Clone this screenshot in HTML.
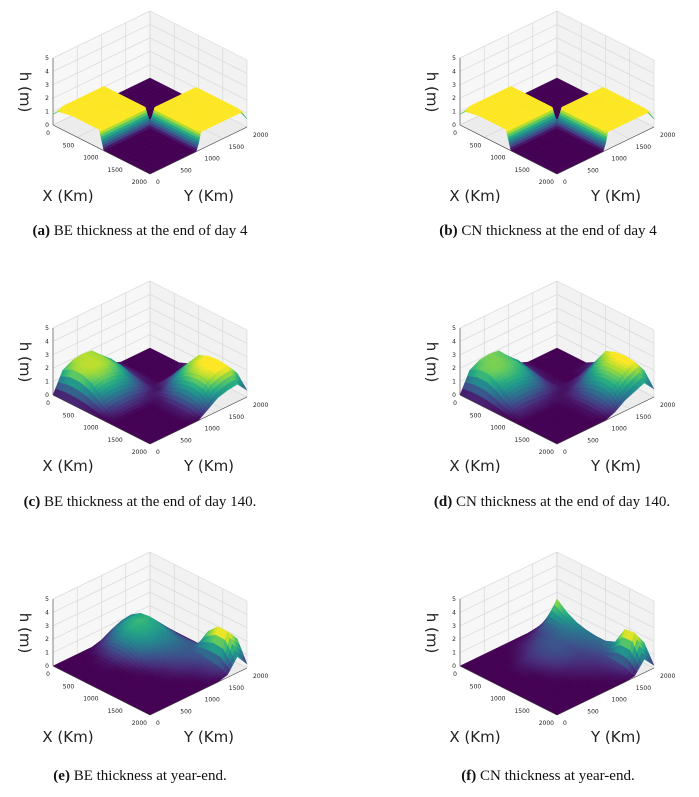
<!DOCTYPE html>
<html><head><meta charset="utf-8">
<style>
body{margin:0;background:#fff;}
#wrap{position:relative;width:699px;height:797px;overflow:hidden;font-family:"DejaVu Sans","Liberation Sans",sans-serif;}
svg{position:absolute;left:0;top:0;}
.cap{position:absolute;font-family:"Liberation Serif",serif;font-size:15px;color:#111;white-space:nowrap;transform:translateX(-50%);}
</style></head>
<body>
<div id="wrap">
<svg id="svg" width="699" height="797"></svg>
<div class="cap" style="left:140px;top:223px"><b>(a)</b> BE thickness at the end of day 4</div>
<div class="cap" style="left:548px;top:223px"><b>(b)</b> CN thickness at the end of day 4</div>
<div class="cap" style="left:140px;top:494px"><b>(c)</b> BE thickness at the end of day 140.</div>
<div class="cap" style="left:552px;top:494px"><b>(d)</b> CN thickness at the end of day 140.</div>
<div class="cap" style="left:140px;top:768px"><b>(e)</b> BE thickness at year-end.</div>
<div class="cap" style="left:548px;top:768px"><b>(f)</b> CN thickness at year-end.</div>
</div>
<script>
// grid coordinates (km)
const kmFine = [0,100,400,800,950,1000,1050,1200,1600,1900,2000];
const kmUniform = [0,200,400,600,800,1000,1200,1400,1600,1800,2000];
const xTicks = [0,500,1000,1500,2000];
const zTicks = [0,1,2,3,4,5];
// heights h[i][j], i along X, j along Y
const hDay4 = [
[0.8,0.8,0.8,0.8,0.8,0.4,0,0,0,0,0],
[1.2,1.4,1.4,1.4,1.4,0.7,0,0,0,0,0],
[1.4,1.4,1.4,1.4,1.4,0.7,0,0,0,0,0],
[1.4,1.4,1.4,1.4,1.4,0.7,0,0,0,0,0],
[1.4,1.4,1.4,1.4,1.4,0.7,0,0,0,0,0],
[0.7,0.7,0.7,0.7,0.7,0.2,0.7,0.7,0.7,0.7,0.5],
[0,0,0,0,0,0.7,1.4,1.4,1.4,1.4,0.8],
[0,0,0,0,0,0.7,1.4,1.4,1.4,1.4,0.8],
[0,0,0,0,0,0.7,1.4,1.4,1.4,1.4,0.8],
[0,0,0,0,0,0.7,1.4,1.4,1.4,1.4,0.8],
[0,0,0,0,0,0.5,1.3,1.3,1.3,1.3,0.6]];
const hBE140 = [
[0,1.5,1.9,2.0,1.9,1.2,0.3,0,0,0,0],
[0,1.9,2.0,2.0,1.9,1.3,0.4,0,0,0,0],
[0,1.9,2.0,2.0,1.8,1.2,0.3,0,0,0,0],
[0,1.6,1.8,1.7,1.4,0.8,0.2,0,0,0,0],
[0,1.0,1.2,1.1,0.9,0.5,0.1,0,0,0,0.3],
[0,0.3,0.4,0.4,0.3,0.15,0.1,0.5,0.9,1.0,0.6],
[0,0,0,0,0,0.1,0.6,1.3,1.8,2.0,1.2],
[0,0,0,0,0,0.2,1.0,1.8,2.2,2.3,1.4],
[0,0,0,0,0,0.2,1.1,2.0,2.3,2.4,1.5],
[0,0,0,0,0,0.2,1.0,1.9,2.2,2.3,1.4],
[0,0,0,0,0,0,0.5,1.0,1.2,1.3,0.5]];
const hCN140 = [
[0,1.5,1.9,2.0,1.9,1.1,0.3,0,0,0,0],
[0,1.9,2.0,2.0,1.8,1.2,0.3,0,0,0,0],
[0,1.9,2.0,1.9,1.7,1.0,0.2,0,0,0,0],
[0,1.5,1.7,1.6,1.3,0.7,0.1,0,0,0,0],
[0,0.9,1.1,1.0,0.8,0.4,0.1,0,0,0.2,0.4],
[0,0.3,0.3,0.3,0.2,0.1,0.1,0.3,0.7,1.2,0.8],
[0,0,0,0,0,0.1,0.4,1.0,1.7,2.3,1.5],
[0,0,0,0,0,0.1,0.7,1.5,2.2,2.6,1.7],
[0,0,0,0,0,0.1,0.8,1.7,2.3,2.7,1.8],
[0,0,0,0,0,0.1,0.7,1.6,2.2,2.6,1.6],
[0,0,0,0,0,0,0.3,0.8,1.1,1.4,0.6]];
const hBEyear = [
[0,0,0,0,0,0.2,0.6,0.9,1.0,0.5,0],
[0,0,0,0,0.3,0.8,1.3,1.5,1.5,0.7,0],
[0,0,0,0.1,0.5,1.2,1.6,1.7,1.6,0.8,0],
[0,0,0,0.1,0.5,1.2,1.5,1.5,1.4,0.7,0],
[0,0,0,0,0.3,0.9,1.2,1.2,1.1,0.6,0],
[0,0,0,0,0.1,0.5,0.8,0.9,0.9,0.6,0],
[0,0,0,0,0,0.2,0.5,0.7,0.7,0.7,0],
[0,0,0,0,0,0.1,0.3,0.5,0.7,2.0,0.3],
[0,0,0,0,0,0,0.1,0.3,0.6,2.7,1.5],
[0,0,0,0,0,0,0,0.2,0.5,2.7,1.8],
[0,0,0,0,0,0,0,0,0.2,1.2,0.3]];
const hCNyear = [
[0,0,0,0,0,0,0,0,0.1,0.3,0],
[0,0,0,0,0,0.1,0.2,0.4,0.8,2.2,0.3],
[0,0,0,0,0.1,0.3,0.5,0.6,0.9,1.6,0.2],
[0,0,0,0.1,0.3,0.5,0.6,0.7,0.9,1.2,0.1],
[0,0,0,0.1,0.3,0.5,0.6,0.6,0.8,1.0,0.1],
[0,0,0,0,0.2,0.4,0.5,0.5,0.7,0.9,0.1],
[0,0,0,0,0.1,0.2,0.3,0.4,0.6,0.9,0.1],
[0,0,0,0,0,0.1,0.2,0.3,0.5,1.2,0.2],
[0,0,0,0,0,0,0.1,0.2,0.5,2.5,1.2],
[0,0,0,0,0,0,0,0.1,0.4,2.6,1.5],
[0,0,0,0,0,0,0,0,0.1,1.0,0.2]];

const NS='http://www.w3.org/2000/svg';
const svg=document.getElementById('svg');
const VIR=['#440154','#472c7a','#3b518b','#2c718e','#21908d','#27ad81','#5cc863','#aadc32','#fde725'];
function hex(c){return [parseInt(c.slice(1,3),16),parseInt(c.slice(3,5),16),parseInt(c.slice(5,7),16)];}
function viridis(t){t=Math.max(0,Math.min(1,t));const p=t*(VIR.length-1);const k=Math.min(VIR.length-2,Math.floor(p));const f=p-k;const a=hex(VIR[k]),b=hex(VIR[k+1]);return 'rgb('+a.map((v,i)=>Math.round(v+(b[i]-v)*f)).join(',')+')';}
function mk(tag,attrs,parent){const e=document.createElementNS(NS,tag);for(const k in attrs)e.setAttribute(k,attrs[k]);(parent||svg).appendChild(e);return e;}

function panel(id,ox,oy,km,H){
  const g=mk('g',{});
  
  
  const P=(u,v,z)=>[ox+53+97*u+97*v, oy+125+49*u-47*v-13.4*z];
  const pts=a=>a.map(p=>p.join(',')).join(' ');
  const w1=mk('polygon',{points:pts([P(0,0,0),P(0,1,0),P(0,1,5),P(0,0,5)]),fill:'#f7f7f7',stroke:'none'},g);
  
  const w2=mk('polygon',{points:pts([P(0,1,0),P(1,1,0),P(1,1,5),P(0,1,5)]),fill:'#f2f2f2',stroke:'none'},g);
  
  const fl=mk('polygon',{points:pts([P(0,0,0),P(1,0,0),P(1,1,0),P(0,1,0)]),fill:'#ececec',stroke:'none'},g);
  
  const gl=(a,b)=>mk('line',{x1:a[0],y1:a[1],x2:b[0],y2:b[1],stroke:'#d8d8d8','stroke-width':0.7},g);
  xTicks.forEach(t=>{const s=t/2000;
    gl(P(0,s,0),P(0,s,5));gl(P(s,1,0),P(s,1,5));gl(P(s,0,0),P(s,1,0));gl(P(0,s,0),P(1,s,0));});
  zTicks.forEach(z=>{gl(P(0,0,z),P(0,1,z));gl(P(0,1,z),P(1,1,z));});
  const n=km.length, S=4, zmax=Math.max(...H.flat()), zmin=Math.min(...H.flat());
  const U=[];
  for(let i=0;i<n-1;i++)for(let a=0;a<S;a++)U.push([i,a/S]);U.push([n-2,1]);
  const coord=q=>(km[q[0]]+(km[q[0]+1]-km[q[0]])*q[1])/2000;
  const hv=(qi,qj)=>{const i=qi[0],fi=qi[1],j=qj[0],fj=qj[1];
    return H[i][j]*(1-fi)*(1-fj)+H[i+1][j]*fi*(1-fj)+H[i][j+1]*(1-fi)*fj+H[i+1][j+1]*fi*fj;};
  const m=U.length; const grid=[];
  for(let a=0;a<m;a++){grid.push([]);for(let b=0;b<m;b++)grid[a].push([coord(U[a]),coord(U[b]),hv(U[a],U[b])]);}
  const quads=[];
  for(let a=0;a<m-1;a++)for(let b=0;b<m-1;b++){
    const c=[grid[a][b],grid[a+1][b],grid[a+1][b+1],grid[a][b+1]];
    const zav=(c[0][2]+c[1][2]+c[2][2]+c[3][2])/4;
    const d=(c[0][0]+c[2][0])/2-(c[0][1]+c[2][1])/2;
    quads.push([d,c,zav]);}
  quads.sort((p,q)=>p[0]-q[0]);
  const sg=mk('g',{},g);
  
  quads.forEach(q=>{const col=viridis((q[2]-zmin)/((zmax-zmin)||1)*1.08);
    mk('polygon',{points:pts(q[1].map(c=>P(c[0],c[1],c[2]))),fill:col,stroke:col,'stroke-width':0.4},sg);});
  const al=(a,b)=>mk('line',{x1:a[0],y1:a[1],x2:b[0],y2:b[1],stroke:'#444','stroke-width':0.6},g);
  al(P(0,0,0),P(1,0,0));al(P(1,0,0),P(1,1,0));al(P(0,0,0),P(0,0,5));
  const tx=(x,y,s,anchor,name,size)=>{const t=mk('text',{x:x,y:y,'font-size':size||6,'text-anchor':anchor,fill:'#222'},g);t.textContent=s;return t;};
  xTicks.forEach(t=>{const s=t/2000;const p=P(s,0,0);const q=P(1,s,0);
    tx(p[0]-3,p[1]+10,String(t),'end','x-tick-label');
    tx(q[0]+6,q[1]+10,String(t),'start','y-tick-label');});
  zTicks.forEach(z=>{const p=P(0,0,z);tx(p[0]-4,p[1]+2,String(z),'end','z-tick-label');});
  tx(ox+68,oy+201,'X (Km)','middle','x-axis-title',15);
  tx(ox+209,oy+201,'Y (Km)','middle','y-axis-title',15);
  const zl=mk('text',{x:0,y:0,'font-size':15,'text-anchor':'middle',fill:'#222',transform:'translate('+(ox+20)+','+(oy+92)+') rotate(90)'},g);
  zl.textContent='h (m)';
}
panel('a',0,0,kmFine,hDay4);
panel('b',407,0,kmFine,hDay4);
panel('c',0,270,kmUniform,hBE140);
panel('d',407,270,kmUniform,hCN140);
panel('e',0,541,kmUniform,hBEyear);
panel('f',407,541,kmUniform,hCNyear);
</script>
</body></html>
